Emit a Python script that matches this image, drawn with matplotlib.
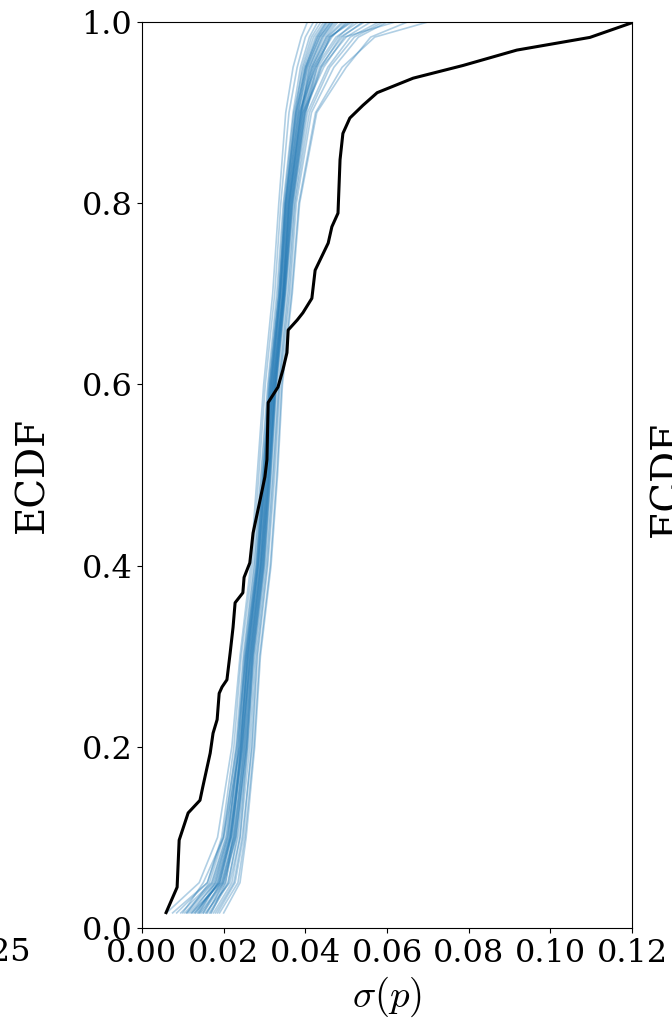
import matplotlib
matplotlib.use("Agg")
import matplotlib.pyplot as plt

plt.rcParams["font.family"] = ["DejaVu Serif"]
plt.rcParams["mathtext.fontset"] = "cm"

# Observed ECDF of sigma(p) (sorted values and cumulative fractions)
obs_sigma = [0.0059, 0.0086, 0.0091, 0.0113, 0.0142, 0.0149, 0.0167, 0.0174,
             0.0184, 0.0189, 0.0196, 0.0208, 0.0216, 0.0223, 0.0228, 0.0247,
             0.0250, 0.0264, 0.0272, 0.0289, 0.0301, 0.0306, 0.0309, 0.0333,
             0.0345, 0.0355, 0.0358, 0.0380, 0.0394, 0.0416, 0.0424, 0.0456,
             0.0465, 0.0480, 0.0485, 0.0492, 0.0509, 0.0541, 0.0576, 0.0664,
             0.0786, 0.0918, 0.1097, 0.1205]
obs_ecdf = [0.017, 0.045, 0.097, 0.127, 0.141, 0.156, 0.193, 0.215,
            0.230, 0.259, 0.266, 0.274, 0.304, 0.332, 0.359, 0.370,
            0.387, 0.403, 0.436, 0.472, 0.498, 0.517, 0.580, 0.597,
            0.616, 0.635, 0.660, 0.671, 0.679, 0.695, 0.726, 0.756,
            0.774, 0.789, 0.848, 0.877, 0.894, 0.908, 0.922, 0.938,
            0.952, 0.969, 0.983, 1.000]

# Posterior predictive replicates: sigma(p) at shared ECDF levels
rep_levels = [1 / 60, 0.05, 0.1, 0.2, 0.3, 0.4, 0.5, 0.6, 0.7, 0.8, 0.9, 0.95, 59 / 60, 1.0]
rep_sigma = [
    [0.0130, 0.0190, 0.0218, 0.0247, 0.0262, 0.0289, 0.0305, 0.0320, 0.0343, 0.0358, 0.0387, 0.0415, 0.0450, 0.0480],
    [0.0075, 0.0160, 0.0195, 0.0225, 0.0243, 0.0270, 0.0286, 0.0302, 0.0325, 0.0340, 0.0360, 0.0380, 0.0400, 0.0420],
    [0.0180, 0.0225, 0.0245, 0.0270, 0.0283, 0.0308, 0.0325, 0.0338, 0.0362, 0.0378, 0.0415, 0.0470, 0.0530, 0.0600],
    [0.0110, 0.0175, 0.0210, 0.0238, 0.0255, 0.0282, 0.0298, 0.0315, 0.0338, 0.0352, 0.0378, 0.0400, 0.0430, 0.0455],
    [0.0150, 0.0200, 0.0228, 0.0255, 0.0270, 0.0296, 0.0312, 0.0326, 0.0348, 0.0366, 0.0395, 0.0430, 0.0480, 0.0520],
    [0.0165, 0.0210, 0.0235, 0.0260, 0.0275, 0.0300, 0.0316, 0.0330, 0.0352, 0.0370, 0.0400, 0.0440, 0.0500, 0.0560],
    [0.0095, 0.0170, 0.0205, 0.0233, 0.0250, 0.0276, 0.0293, 0.0310, 0.0333, 0.0348, 0.0372, 0.0395, 0.0420, 0.0445],
    [0.0140, 0.0185, 0.0215, 0.0244, 0.0266, 0.0292, 0.0309, 0.0324, 0.0346, 0.0362, 0.0392, 0.0420, 0.0465, 0.0500],
    [0.0190, 0.0235, 0.0252, 0.0274, 0.0288, 0.0314, 0.0330, 0.0342, 0.0366, 0.0384, 0.0425, 0.0490, 0.0570, 0.0700],
    [0.0120, 0.0195, 0.0225, 0.0250, 0.0264, 0.0290, 0.0307, 0.0322, 0.0345, 0.0360, 0.0390, 0.0410, 0.0440, 0.0470],
    [0.0170, 0.0205, 0.0222, 0.0242, 0.0258, 0.0284, 0.0300, 0.0318, 0.0340, 0.0356, 0.0383, 0.0405, 0.0435, 0.0465],
    [0.0100, 0.0150, 0.0200, 0.0240, 0.0260, 0.0286, 0.0303, 0.0319, 0.0341, 0.0357, 0.0385, 0.0425, 0.0475, 0.0530],
    [0.0155, 0.0215, 0.0240, 0.0264, 0.0278, 0.0303, 0.0320, 0.0334, 0.0356, 0.0373, 0.0405, 0.0455, 0.0510, 0.0580],
    [0.0135, 0.0180, 0.0212, 0.0236, 0.0252, 0.0279, 0.0296, 0.0313, 0.0336, 0.0350, 0.0375, 0.0392, 0.0415, 0.0438],
    [0.0175, 0.0220, 0.0240, 0.0258, 0.0272, 0.0298, 0.0314, 0.0328, 0.0350, 0.0368, 0.0398, 0.0435, 0.0490, 0.0540],
    [0.0060, 0.0140, 0.0185, 0.0220, 0.0240, 0.0266, 0.0282, 0.0298, 0.0320, 0.0335, 0.0352, 0.0370, 0.0390, 0.0405],
    [0.0145, 0.0198, 0.0226, 0.0252, 0.0268, 0.0294, 0.0310, 0.0325, 0.0347, 0.0364, 0.0394, 0.0445, 0.0495, 0.0620],
    [0.0125, 0.0190, 0.0218, 0.0245, 0.0260, 0.0287, 0.0304, 0.0321, 0.0344, 0.0359, 0.0388, 0.0412, 0.0445, 0.0475],
    [0.0160, 0.0200, 0.0230, 0.0257, 0.0273, 0.0299, 0.0315, 0.0329, 0.0351, 0.0369, 0.0402, 0.0428, 0.0460, 0.0510],
    [0.0110, 0.0165, 0.0200, 0.0230, 0.0248, 0.0274, 0.0291, 0.0308, 0.0330, 0.0346, 0.0370, 0.0388, 0.0410, 0.0430],
    [0.0200, 0.0240, 0.0255, 0.0276, 0.0290, 0.0316, 0.0332, 0.0344, 0.0368, 0.0386, 0.0428, 0.0500, 0.0560, 0.0650],
    [0.0150, 0.0192, 0.0220, 0.0248, 0.0265, 0.0291, 0.0308, 0.0323, 0.0346, 0.0361, 0.0390, 0.0418, 0.0455, 0.0495],
    [0.0130, 0.0188, 0.0216, 0.0242, 0.0257, 0.0283, 0.0301, 0.0317, 0.0339, 0.0354, 0.0380, 0.0402, 0.0432, 0.0460],
    [0.0085, 0.0160, 0.0198, 0.0232, 0.0254, 0.0281, 0.0297, 0.0312, 0.0335, 0.0351, 0.0376, 0.0398, 0.0425, 0.0450],
    [0.0115, 0.0182, 0.0214, 0.0243, 0.0259, 0.0285, 0.0302, 0.0316, 0.0339, 0.0355, 0.0384, 0.0408, 0.0442, 0.0468],
    [0.0142, 0.0196, 0.0224, 0.0251, 0.0267, 0.0293, 0.0311, 0.0327, 0.0349, 0.0365, 0.0397, 0.0425, 0.0462, 0.0505],
    [0.0168, 0.0212, 0.0232, 0.0256, 0.0271, 0.0297, 0.0313, 0.0327, 0.0349, 0.0367, 0.0399, 0.0438, 0.0485, 0.0545],
    [0.0105, 0.0172, 0.0207, 0.0236, 0.0253, 0.0280, 0.0296, 0.0313, 0.0336, 0.0351, 0.0377, 0.0401, 0.0428, 0.0452],
    [0.0138, 0.0186, 0.0217, 0.0246, 0.0263, 0.0290, 0.0306, 0.0321, 0.0344, 0.0360, 0.0389, 0.0416, 0.0452, 0.0490],
    [0.0158, 0.0204, 0.0229, 0.0254, 0.0269, 0.0295, 0.0311, 0.0325, 0.0347, 0.0363, 0.0393, 0.0422, 0.0458, 0.0515],
    [0.0122, 0.0178, 0.0209, 0.0240, 0.0256, 0.0284, 0.0300, 0.0316, 0.0338, 0.0353, 0.0381, 0.0404, 0.0436, 0.0462],
    [0.0185, 0.0228, 0.0248, 0.0268, 0.0281, 0.0306, 0.0322, 0.0336, 0.0359, 0.0375, 0.0410, 0.0460, 0.0520, 0.0590],
]

x_ticks = [0.00, 0.02, 0.04, 0.06, 0.08, 0.10, 0.12]
y_ticks = [0.0, 0.2, 0.4, 0.6, 0.8, 1.0]

fig = plt.figure(figsize=(6.72, 10.25), dpi=100)
ax = fig.add_axes([142 / 672, 97 / 1025, 490 / 672, 906 / 1025])

for xs in rep_sigma:
    ax.plot(xs, rep_levels, color="C0", alpha=0.35, lw=1.2)
ax.plot(obs_sigma, obs_ecdf, color="black", lw=2.2)

ax.set_xlim(0, 0.12)
ax.set_ylim(0, 1.0)
ax.set_xticks(x_ticks)
ax.set_yticks(y_ticks)
ax.set_xticklabels([f"{t:.2f}" for t in x_ticks])
ax.set_yticklabels([f"{t:.1f}" for t in y_ticks])
ax.tick_params(labelsize=23)

ax.set_xlabel(r"$\sigma(p)$", fontsize=28)
ax.set_ylabel("ECDF", fontsize=28)
ax.yaxis.set_label_coords(-0.185, 0.5)

# Edges of the neighbouring panels in the row
fig.text(31 / 672, 1 - 937 / 1025, "0.125", fontsize=23, ha="right", va="top")
fig.text(668 / 672, 1 - 479 / 1025, "ECDF", fontsize=28, rotation=90,
         ha="center", va="center")

fig.savefig("out.png", dpi=100)
